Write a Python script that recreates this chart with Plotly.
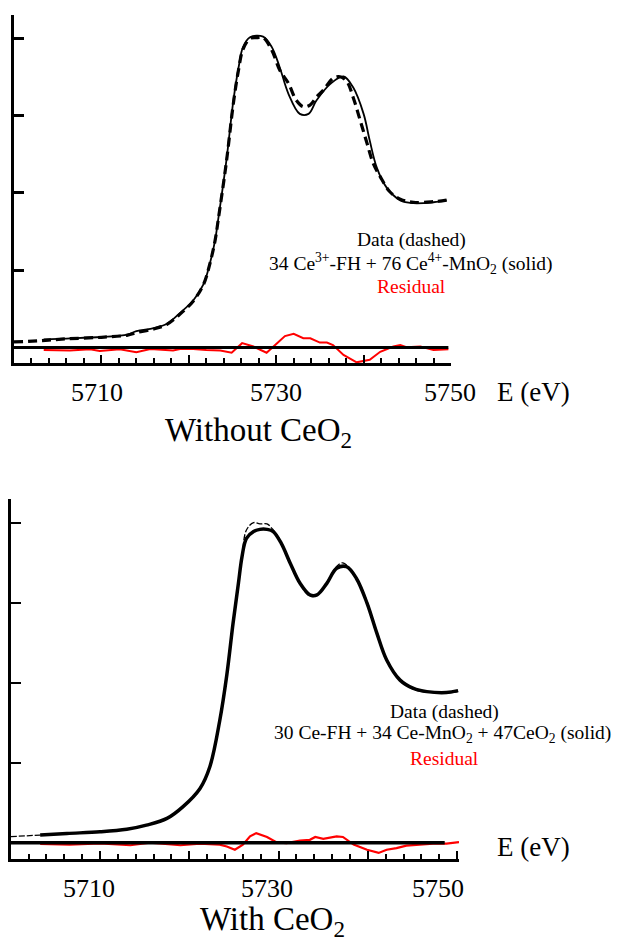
import plotly.graph_objects as go

W, H = 617, 937

# ---------------- Top panel (without CeO2) ----------------
top_data_E = [5700, 5703, 5706, 5710, 5713, 5714, 5716, 5717.5, 5719, 5720.5, 5721.7, 5722.4,
              5723, 5723.4, 5724.3, 5725.1, 5725.7, 5726.2, 5727.0, 5727.8, 5728.5, 5729.5,
              5730.4, 5731.4, 5732.3, 5733.1, 5733.9, 5734.6, 5735.4, 5736.5, 5737.3, 5738.1,
              5738.8, 5739.6, 5740.4, 5741.1, 5741.9, 5743.0, 5744.2, 5745.7, 5748.0, 5749.5]
top_data_y = [0.018, 0.022, 0.028, 0.033, 0.040, 0.048, 0.060, 0.075, 0.108, 0.150, 0.205, 0.270,
              0.345, 0.420, 0.600, 0.790, 0.900, 0.965, 1.000, 1.003, 1.003, 0.962,
              0.898, 0.855, 0.800, 0.779, 0.785, 0.810, 0.833, 0.871, 0.876, 0.860,
              0.810, 0.736, 0.660, 0.596, 0.553, 0.504, 0.480, 0.470, 0.472, 0.477]

top_fit_E = [5703.4, 5706, 5710, 5713, 5714, 5716, 5717.5, 5719, 5720.5, 5721.7, 5722.4, 5723,
             5723.4, 5724.3, 5725.1, 5725.7, 5726.2, 5727.0, 5728.5, 5729.5, 5730.4, 5731.4,
             5732.7, 5733.7, 5734.6, 5736.2, 5737.7, 5738.8, 5740.0, 5740.7, 5741.5, 5742.6,
             5744.2, 5745.7, 5748.0, 5749.5]
top_fit_y = [0.026, 0.029, 0.034, 0.042, 0.053, 0.063, 0.077, 0.112, 0.152, 0.206, 0.271, 0.346,
             0.422, 0.605, 0.799, 0.907, 0.972, 1.004, 1.006, 0.972, 0.907, 0.821,
             0.756, 0.756, 0.799, 0.853, 0.877, 0.842, 0.756, 0.670, 0.583, 0.519,
             0.476, 0.467, 0.470, 0.476]

top_res_E = [5703.4, 5706.4, 5708.7, 5709.8, 5712.1, 5714.0, 5715.6, 5716.7, 5718.2, 5719.0,
             5720.5, 5722.0, 5723.6, 5724.9, 5726.1, 5727.4, 5728.9, 5730.1, 5731.0, 5732.0,
             5733.1, 5733.9, 5735.0, 5735.8, 5736.5, 5737.7, 5739.2, 5740.7, 5741.9, 5743.4,
             5744.2, 5744.9, 5746.5, 5748.0, 5749.7]
top_res_y = [-0.008, -0.010, -0.006, -0.011, -0.006, -0.015, -0.005, -0.008, -0.010, -0.005,
             -0.005, -0.008, -0.010, -0.017, 0.014, 0.003, -0.017, 0.014, 0.037, 0.044,
             0.030, 0.030, 0.016, 0.016, 0.008, -0.024, -0.048, -0.040, -0.014, 0.003,
             0.008, 0.001, 0.003, -0.008, -0.006]
top_base_E = [5700, 5749.7]

# ---------------- Bottom panel (with CeO2) ----------------
bot_data_E = [5700, 5703.3, 5706.3, 5710.0, 5713.0, 5715.2, 5717.5, 5719.3, 5721.2, 5722.3,
              5723.4, 5724.2, 5724.9, 5725.5, 5725.9, 5726.4, 5727.2, 5727.9, 5728.7, 5729.4,
              5730.3, 5731.3, 5732.4, 5733.5, 5734.3, 5735.4, 5736.5, 5737.2, 5738.7, 5739.9,
              5741.0, 5742.1, 5743.6, 5745.1, 5746.6, 5748.8, 5750.1]
bot_data_y = [0.019, 0.024, 0.029, 0.034, 0.042, 0.055, 0.076, 0.113, 0.170, 0.238,
              0.381, 0.525, 0.687, 0.812, 0.895, 0.979, 1.002, 0.998, 0.998, 0.979,
              0.940, 0.875, 0.810, 0.772, 0.775, 0.815, 0.865, 0.876, 0.830, 0.755,
              0.660, 0.575, 0.510, 0.480, 0.472, 0.468, 0.474]

bot_fit_E = [5703.3, 5706.3, 5710.0, 5713.0, 5715.2, 5717.5, 5719.3, 5721.2, 5722.3, 5723.4,
             5724.2, 5724.9, 5725.5, 5725.9, 5726.4, 5727.2, 5727.9, 5728.7, 5729.4, 5730.3,
             5731.3, 5732.4, 5733.5, 5734.3, 5735.4, 5736.5, 5737.6, 5738.7, 5739.9, 5741.0,
             5742.1, 5743.6, 5745.1, 5746.6, 5748.8, 5750.1]
bot_fit_y = [0.024, 0.029, 0.034, 0.042, 0.055, 0.076, 0.113, 0.170, 0.238, 0.381,
             0.525, 0.687, 0.812, 0.895, 0.953, 0.974, 0.981, 0.981, 0.974, 0.937,
             0.875, 0.812, 0.776, 0.776, 0.812, 0.859, 0.864, 0.828, 0.750, 0.656,
             0.572, 0.509, 0.483, 0.473, 0.470, 0.476]

bot_res_E = [5703.3, 5706.6, 5710.0, 5713.4, 5715.6, 5719.0, 5721.2, 5723.4, 5724.2, 5725.1,
             5726.0, 5726.8, 5727.5, 5728.7, 5729.8, 5730.9, 5732.4, 5733.5, 5734.1, 5735.0,
             5736.5, 5737.2, 5738.4, 5739.9, 5741.2, 5742.1, 5743.2, 5744.3, 5745.8, 5747.3,
             5748.8, 5750.2]
bot_res_y = [-0.004, -0.006, -0.002, -0.008, 0.000, -0.008, -0.003, -0.006, -0.012, -0.022,
             -0.006, 0.020, 0.030, 0.018, 0.001, -0.001, 0.007, 0.009, 0.018, 0.012,
             0.020, 0.018, -0.006, -0.022, -0.032, -0.022, -0.017, -0.009, -0.006, -0.003,
             -0.003, 0.002]
bot_base_E = [5700, 5748.6]

tick_labels = ["5710", "5730", "5750"]
tick_label_E = [5710, 5730, 5750]

top_legend = ["Data (dashed)",
              "34 Ce<sup>3+</sup>-FH + 76 Ce<sup>4+</sup>-MnO<sub>2</sub> (solid)",
              "Residual"]
bot_legend = ["Data (dashed)",
              "30 Ce-FH + 34 Ce-MnO<sub>2</sub> + 47CeO<sub>2</sub> (solid)",
              "Residual"]
top_title = "Without CeO<sub>2</sub>"
bot_title = "With CeO<sub>2</sub>"
axis_label = "E (eV)"

FONT = "Liberation Serif, Times New Roman, serif"

def px(x):
    return x / W

def py(y):
    return 1 - y / H

fig = go.Figure()

# top traces
fig.add_trace(go.Scatter(x=top_res_E, y=top_res_y, mode="lines",
                         line=dict(color="#ff0000", width=2), xaxis="x", yaxis="y"))
fig.add_trace(go.Scatter(x=top_base_E, y=[0, 0], mode="lines",
                         line=dict(color="black", width=3), xaxis="x", yaxis="y"))
fig.add_trace(go.Scatter(x=top_fit_E, y=top_fit_y, mode="lines", line_shape="spline",
                         line=dict(color="black", width=1.8), xaxis="x", yaxis="y"))
fig.add_trace(go.Scatter(x=top_data_E, y=top_data_y, mode="lines", line_shape="spline",
                         line=dict(color="black", width=3.2, dash="9px,5px"), xaxis="x", yaxis="y"))

# bottom traces
fig.add_trace(go.Scatter(x=bot_res_E, y=bot_res_y, mode="lines",
                         line=dict(color="#ff0000", width=2.2), xaxis="x2", yaxis="y2"))
fig.add_trace(go.Scatter(x=bot_base_E, y=[0, 0], mode="lines",
                         line=dict(color="black", width=3.5), xaxis="x2", yaxis="y2"))
fig.add_trace(go.Scatter(x=bot_fit_E, y=bot_fit_y, mode="lines", line_shape="spline",
                         line=dict(color="black", width=3.5), xaxis="x2", yaxis="y2"))
fig.add_trace(go.Scatter(x=bot_data_E, y=bot_data_y, mode="lines", line_shape="spline",
                         line=dict(color="black", width=1.3, dash="6px,2px"), xaxis="x2", yaxis="y2"))

def xaxis_cfg(dom, rng, lw):
    return dict(domain=dom, range=rng, showline=True, linecolor="black", linewidth=lw,
                showgrid=False, zeroline=False, showticklabels=False,
                tickmode="array", tickvals=[5700, 5710, 5720, 5730, 5740, 5750],
                ticks="inside", ticklen=8, tickwidth=2, tickcolor="black",
                minor=dict(dtick=2, tick0=5700, ticks="inside", ticklen=5, tickwidth=2,
                           tickcolor="black", showgrid=False),
                fixedrange=True)

def yaxis_cfg(dom, rng, anchor, lw, tw):
    return dict(domain=dom, range=rng, anchor=anchor, showline=True, linecolor="black",
                linewidth=lw, showgrid=False, zeroline=False, showticklabels=False,
                tickmode="array", tickvals=[0.25, 0.5, 0.75, 1.0],
                ticks="inside", ticklen=10, tickwidth=tw, tickcolor="black", fixedrange=True)

fig.update_layout(
    width=W, height=H, autosize=False,
    margin=dict(l=0, r=0, t=0, b=0),
    paper_bgcolor="white", plot_bgcolor="white",
    showlegend=False,
    font=dict(family=FONT, color="black", size=16),
    xaxis=dict(xaxis_cfg([px(14), px(451)], [5700, 5750], 3), anchor="y"),
    yaxis=yaxis_cfg([py(363), py(15)], [-0.0502, 1.076], "x", 3, 3),
    xaxis2=dict(xaxis_cfg([px(10.7), px(459)], [5700, 5750.2], 2.5), anchor="y2"),
    yaxis2=yaxis_cfg([py(859), py(499)], [-0.051, 1.076], "x2", 2.7, 1.5),
)

LEG = 19.5
ann = []
# legends
for txt, y, col, xc in zip(top_legend, [240, 263, 286], ["black", "black", "#ff0000"], [411, 411, 411]):
    ann.append(dict(text=txt, x=px(xc), y=py(y), xref="paper", yref="paper",
                    xanchor="center", yanchor="middle", showarrow=False,
                    font=dict(size=LEG, color=col, family=FONT)))
for txt, y, col, xc in zip(bot_legend, [712, 734, 758], ["black", "black", "#ff0000"], [445, 442.5, 445]):
    ann.append(dict(text=txt, x=px(xc), y=py(y), xref="paper", yref="paper",
                    xanchor="center", yanchor="middle", showarrow=False,
                    font=dict(size=LEG, color=col, family=FONT)))
# tick labels
for e, t, sh in zip(tick_label_E, tick_labels, [-4, 0, -1]):
    ann.append(dict(text=t, x=e, xref="x", y=py(392), yref="paper", xshift=sh,
                    xanchor="center", yanchor="middle", showarrow=False,
                    font=dict(size=26, family=FONT)))
for e, t, sh in zip(tick_label_E, tick_labels, [-11, -12, -19]):
    ann.append(dict(text=t, x=e, xref="x2", y=py(888), yref="paper", xshift=sh,
                    xanchor="center", yanchor="middle", showarrow=False,
                    font=dict(size=26, family=FONT)))
# axis labels
for y in [392, 847]:
    ann.append(dict(text=axis_label, x=px(533), y=py(y), xref="paper", yref="paper",
                    xanchor="center", yanchor="middle", showarrow=False,
                    font=dict(size=27, family=FONT)))
# titles
ann.append(dict(text=top_title, x=px(258), y=py(432), xref="paper", yref="paper",
                xanchor="center", yanchor="middle", showarrow=False,
                font=dict(size=33, family=FONT)))
ann.append(dict(text=bot_title, x=px(272), y=py(921), xref="paper", yref="paper",
                xanchor="center", yanchor="middle", showarrow=False,
                font=dict(size=33, family=FONT)))
fig.update_layout(annotations=ann)

fig.write_html("out.html", config=dict(displayModeBar=False),
               post_script="document.body.style.margin='0px';document.body.style.overflow='hidden';")
